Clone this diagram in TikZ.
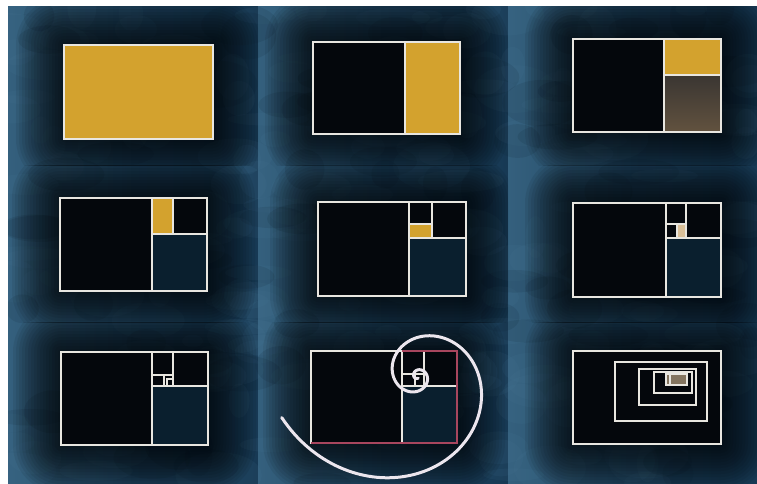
\documentclass[tikz,border=0pt]{standalone}
\definecolor{bgblue}{HTML}{1F4562}
\definecolor{bglight}{HTML}{4F819F}
\definecolor{bgdark}{HTML}{173954}
\definecolor{gold}{HTML}{D3A22E}
\definecolor{paletan}{HTML}{D9BF98}
\definecolor{lineW}{HTML}{E8E6E0}
\definecolor{redL}{HTML}{A8465E}
\definecolor{inner}{HTML}{04070C}
\definecolor{innerblue}{HTML}{0A1F2E}
\definecolor{spiralW}{HTML}{ECE6EE}
\definecolor{brownTop}{HTML}{3A3632}
\definecolor{brownBot}{HTML}{62523F}
\tikzset{
  wl/.style={draw=lineW, line width=2.2pt, line cap=rect},
  thinwl/.style={draw=lineW, line width=1.4pt},
  nestl/.style={draw=lineW, line width=1.8pt},
  redl/.style={draw=redL, line width=2.2pt},
  spiralline/.style={draw=spiralW, line width=3pt, line cap=round},
}
\newcommand\halo[4]{%
  \foreach \d in {48,45,...,0}{%
    \fill[black,opacity=0.065,rounded corners=\d pt] ({#1-\d},{#2-\d}) rectangle ({#3+\d},{#4+\d});}}
\newcommand\tilebg[4]{%
  \shade[left color=bglight!45!bgblue, right color=bgdark, middle color=bgblue] (#1,#2) rectangle (#3,#4);}
\begin{document}
\begin{tikzpicture}[x=1pt,y=-1pt]
\useasboundingbox (0,0) rectangle (757,483);
\fill[white] (0,0) rectangle (757,483);
% tiles
\tilebg{8}{6}{258}{165}
\tilebg{258}{6}{508}{165}
\tilebg{508}{6}{757}{165}
\tilebg{8}{165}{258}{322}
\tilebg{258}{165}{508}{322}
\tilebg{508}{165}{757}{322}
\tilebg{8}{322}{258}{483}
\tilebg{258}{322}{508}{483}
\tilebg{508}{322}{757}{483}
% clouds
\begin{scope}
\clip (8,6) rectangle (757,483);
\pgfmathsetseed{11}
\foreach \i in {1,...,220}{%
  \pgfmathsetmacro\cx{8+749*rnd}%
  \pgfmathsetmacro\cy{6+477*rnd}%
  \pgfmathsetmacro\rx{10+34*rnd}%
  \pgfmathsetmacro\ry{6+18*rnd}%
  \fill[bglight,opacity=0.09] (\cx,\cy) ellipse ({\rx} and {\ry});}
\foreach \i in {1,...,80}{%
  \pgfmathsetmacro\cx{8+749*rnd}%
  \pgfmathsetmacro\cy{6+477*rnd}%
  \pgfmathsetmacro\rx{12+30*rnd}%
  \pgfmathsetmacro\ry{8+16*rnd}%
  \fill[bgdark!60!black,opacity=0.12] (\cx,\cy) ellipse ({\rx} and {\ry});}
\end{scope}
% halos
\begin{scope}\clip (8,6) rectangle (258,165);\halo{64}{45}{213}{139}\end{scope}
\begin{scope}\clip (258,6) rectangle (508,165);\halo{313}{42}{460}{134}\end{scope}
\begin{scope}\clip (508,6) rectangle (757,165);\halo{573}{39}{721}{132}\end{scope}
\begin{scope}\clip (8,165) rectangle (258,322);\halo{60}{198}{207}{291}\end{scope}
\begin{scope}\clip (258,165) rectangle (508,322);\halo{318}{202}{466}{296}\end{scope}
\begin{scope}\clip (508,165) rectangle (757,322);\halo{573}{203}{721}{297}\end{scope}
\begin{scope}\clip (8,322) rectangle (258,483);\halo{61}{352}{208}{445}\end{scope}
\begin{scope}\clip (258,322) rectangle (508,483);\halo{311}{351}{457}{443}\end{scope}
\begin{scope}\clip (508,322) rectangle (757,483);\halo{573}{351}{721}{444}\end{scope}
% ---- tile 1
\fill[gold] (64,45) rectangle (213,139);
\draw[wl] (64,45) rectangle (213,139);
% ---- tile 2
\fill[inner] (313,42) rectangle (405,134);
\fill[gold] (405,42) rectangle (460,134);
\draw[wl] (313,42) rectangle (460,134);
\draw[wl] (405,42) -- (405,134);
% ---- tile 3
\fill[inner] (573,39) rectangle (721,132);
\fill[gold] (664,39) rectangle (721,75);
\shade[top color=brownTop, bottom color=brownBot] (664,75) rectangle (721,132);
\draw[wl] (573,39) rectangle (721,132);
\draw[wl] (664,39) -- (664,132);
\draw[wl] (664,75) -- (721,75);
% ---- tile 4
\fill[inner] (60,198) rectangle (207,291);
\fill[innerblue] (152,234) rectangle (207,291);
\fill[gold] (152,198) rectangle (173,234);
\draw[wl] (60,198) rectangle (207,291);
\draw[wl] (152,198) -- (152,291);
\draw[wl] (152,234) -- (207,234);
\draw[wl] (173,198) -- (173,234);
% ---- tile 5
\fill[inner] (318,202) rectangle (466,296);
\fill[innerblue] (409,238) rectangle (466,296);
\fill[gold] (409,224) rectangle (432,238);
\draw[wl] (318,202) rectangle (466,296);
\draw[wl] (409,202) -- (409,296);
\draw[wl] (409,238) -- (466,238);
\draw[wl] (432,202) -- (432,238);
\draw[thinwl] (409,224) -- (432,224);
% ---- tile 6
\fill[inner] (573,203) rectangle (721,297);
\fill[innerblue] (666,238) rectangle (721,297);
\fill[paletan] (677,224) rectangle (686,238);
\draw[wl] (573,203) rectangle (721,297);
\draw[wl] (666,203) -- (666,297);
\draw[wl] (666,238) -- (721,238);
\draw[wl] (686,203) -- (686,238);
\draw[thinwl] (666,224) -- (686,224);
\draw[thinwl] (677,224) -- (677,238);
% ---- tile 7
\fill[inner] (61,352) rectangle (208,445);
\fill[innerblue] (152,386) rectangle (208,445);
\draw[wl] (61,352) rectangle (208,445);
\draw[wl] (152,352) -- (152,445);
\draw[wl] (152,386) -- (208,386);
\draw[wl] (173,352) -- (173,386);
\draw[thinwl] (152,375) -- (173,375);
\draw[thinwl] (164,375) -- (164,386);
\draw[thinwl] (167,378) -- (167,386);
\draw[thinwl] (167,379) -- (173,379);
% ---- tile 8
\fill[inner] (311,351) rectangle (457,443);
\fill[innerblue] (402,386) rectangle (457,443);
\draw[wl] (311,351) rectangle (457,443);
\draw[wl] (402,351) -- (402,443);
\draw[wl] (402,386) -- (457,386);
\draw[wl] (424,351) -- (424,386);
\draw[thinwl] (402,374) -- (424,374);
\draw[thinwl] (415,374) -- (415,386);
\draw[redl] (402,351) -- (457,351) -- (457,443) -- (311,443);
\draw[spiralline] plot[domain=-163:650, samples=400, variable=\t]
  ({417.5+97.5*pow(0.629,(\t+90)/90)*cos(\t)}, {376-97.5*pow(0.629,(\t+90)/90)*sin(\t)});
% ---- tile 9
\fill[inner] (573,351) rectangle (721,444);
\draw[nestl] (573,351) rectangle (721,444);
\draw[nestl] (615,362) rectangle (707,421);
\draw[nestl] (639,369) rectangle (696,405);
\draw[nestl] (654,372) rectangle (692,393);
\fill[paletan!60!inner] (666,374) rectangle (687,385);
\draw[thinwl] (666,374) rectangle (687,385);
\draw[thinwl] (670,374) -- (670,385);
\end{tikzpicture}
\end{document}
